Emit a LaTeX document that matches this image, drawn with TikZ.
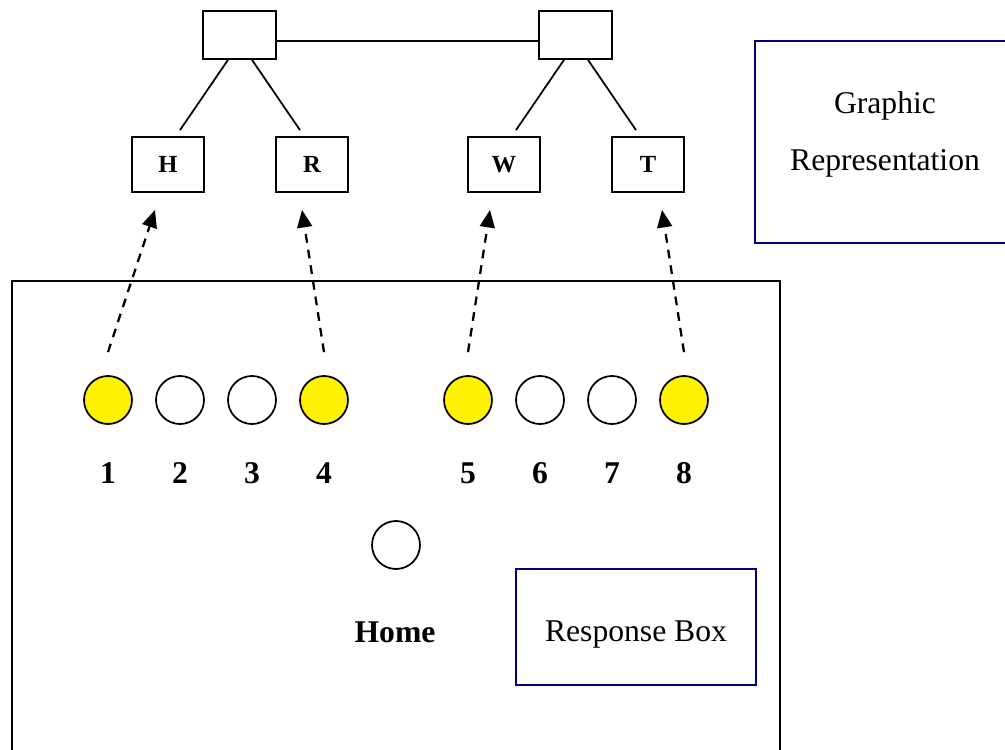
\documentclass[tikz,border=0pt]{standalone}
\usepackage{fontspec}
\setmainfont{Liberation Serif}
\usetikzlibrary{arrows.meta}
\definecolor{navy}{RGB}{0,0,128}
\tikzset{
	btn/.style={
		circle,
		draw,
		line width=1pt,
		minimum size=0.96cm,
		inner sep=0pt
	},
	box/.style={
		rectangle,
		draw,
		line width=1pt,
		inner sep=0pt
	},
	dsh/.style={
		->,
		>={Triangle[length=10pt, width=8.5pt]},
		line width=1.3pt,
		dash pattern=on 5pt off 4pt
	}
}

\begin{document}
\begin{tikzpicture}[x=0.02cm, y=-0.02cm, font=\fontsize{18}{22}\selectfont]
\useasboundingbox (0,0) rectangle (1005,750);

% top of the tree
\node[box, minimum width=1.46cm, minimum height=0.96cm] (P1) at (239.5,35) {};
\node[box, minimum width=1.46cm, minimum height=0.96cm] (P2) at (575.5,35) {};
\draw[line width=1pt] ([yshift=-0.12cm]P1.east) -- ([yshift=-0.12cm]P2.west);

\foreach \n/\x/\t in {1/168/H, 2/312/R, 3/504/W, 4/648/T}
	\node[box, minimum width=1.44cm, minimum height=1.1cm, font=\fontsize{14}{16}\selectfont\bfseries] (L\n) at (\x,164.5) {\t};

\draw[line width=1pt] ([xshift=-0.23cm]P1.south) -- ([xshift=0.24cm, yshift=0.12cm]L1.north);
\draw[line width=1pt] ([xshift=0.25cm]P1.south) -- ([xshift=-0.24cm, yshift=0.12cm]L2.north);
\draw[line width=1pt] ([xshift=-0.23cm]P2.south) -- ([xshift=0.24cm, yshift=0.12cm]L3.north);
\draw[line width=1pt] ([xshift=0.25cm]P2.south) -- ([xshift=-0.24cm, yshift=0.12cm]L4.north);

% graphic representation
\draw[navy, line width=1.1pt] (1010,41) -- (755,41) -- (755,243) -- (1010,243);
\node (G1) at (885,106) {Graphic};
\node (G2) at (885,163) {Representation};

% response box
\draw[line width=1.2pt] (12,752) -- (12,281) -- (780,281) -- (780,752);

\foreach \i/\x/\c in {1/108/yellow, 2/180/white, 3/252/white, 4/324/yellow, 5/468/yellow, 6/540/white, 7/612/white, 8/684/yellow} {
	\node[btn, fill=\c] (B\i) at (\x,400) {};
	\node[font=\fontsize{18}{22}\selectfont\bfseries] (N\i) at (\x,473) {\i};
}

\draw[dsh] ([yshift=0.46cm]B1.north) -- ([xshift=-0.26cm, yshift=-0.34cm]L1.south);
\draw[dsh] ([yshift=0.46cm]B4.north) -- ([xshift=-0.2cm, yshift=-0.34cm]L2.south);
\draw[dsh] ([yshift=0.46cm]B5.north) -- ([xshift=-0.28cm, yshift=-0.34cm]L3.south);
\draw[dsh] ([yshift=0.46cm]B8.north) -- ([xshift=0.28cm, yshift=-0.34cm]L4.south);

\node[btn] (Hm) at (396,545) {};
\node[font=\fontsize{18}{22}\selectfont\bfseries] (HmL) at (395,632) {Home};

\node[box, draw=navy, line width=1.1pt, minimum width=4.8cm, minimum height=2.32cm] (RB) at (636,627) {};
\node (RBL) at (636,635) {Response Box};
\end{tikzpicture}
\end{document}
